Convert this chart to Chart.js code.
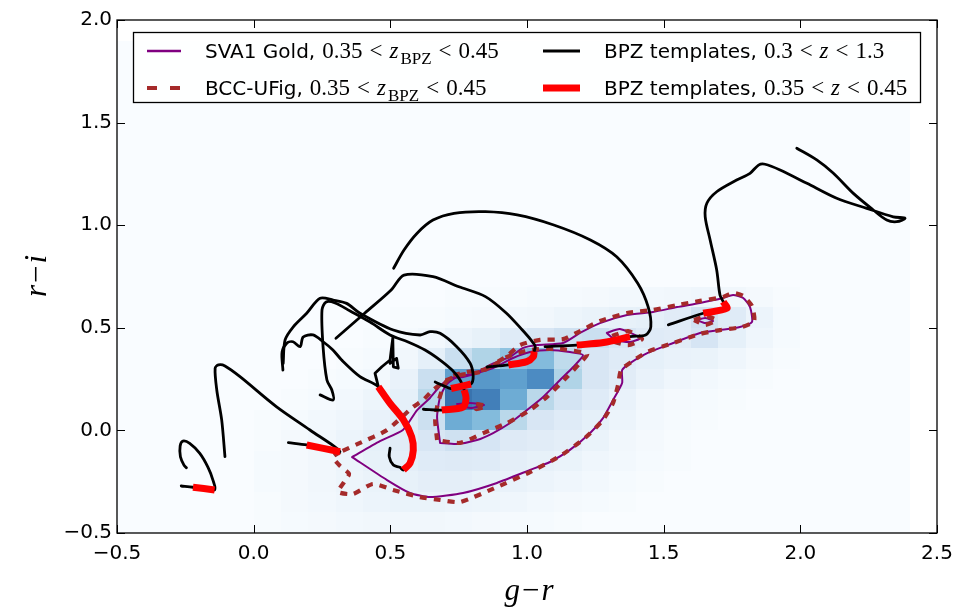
<!DOCTYPE html>
<html>
<head>
<meta charset="utf-8">
<style>
  html, body { margin: 0; padding: 0; background: #ffffff; }
  #wrap { width: 972px; height: 609px; }
</style>
<script src="https://cdn.jsdelivr.net/npm/chart.js@4.4.1/dist/chart.umd.min.js"></script>
</head>
<body>
<div id="wrap"><canvas id="c" width="972" height="609"></canvas></div>
<script>
// ---------------- axis ticks ----------------
const xTickValues = [-0.5, 0.0, 0.5, 1.0, 1.5, 2.0, 2.5];
const yTickValues = [-0.5, 0.0, 0.5, 1.0, 1.5, 2.0];

// ---------------- 2D histogram of g-r vs r-i (bins of 0.1) ----------------
const binXStart = -0.5, binXCount = 29;   // g-r bins: -0.5 .. 2.4
const binYStart = -0.5, binYCount = 24;   // r-i bins: -0.5 .. 1.9
const binStep = 0.1;
const denseColStart = 5;                  // first listed column is g-r = 0.0
// normalised counts, one row per r-i bin, columns g-r = 0.0 .. 1.9
const rowRiM050 = [0.01,0.02,0.03,0.04,0.05,0.05,0.05,0.04,0.03,0.02,0.02,0.01,0,0,0,0,0,0,0,0];
const rowRiM040 = [0.01,0.03,0.04,0.06,0.08,0.09,0.09,0.08,0.07,0.06,0.04,0.03,0.02,0.01,0,0,0,0,0,0];
const rowRiM030 = [0.02,0.03,0.05,0.07,0.09,0.11,0.13,0.13,0.11,0.10,0.08,0.06,0.04,0.02,0.01,0,0,0,0,0];
const rowRiM020 = [0.02,0.03,0.05,0.08,0.11,0.13,0.16,0.17,0.16,0.13,0.11,0.09,0.06,0.04,0.02,0.01,0,0,0,0];
const rowRiM010 = [0.01,0.03,0.05,0.08,0.12,0.15,0.21,0.26,0.22,0.17,0.15,0.13,0.09,0.05,0.03,0.01,0,0,0,0];
const rowRiP000 = [0.01,0.02,0.04,0.06,0.10,0.15,0.27,0.60,0.52,0.34,0.21,0.16,0.12,0.08,0.04,0.02,0.01,0,0,0];
const rowRiP010 = [0,0.01,0.02,0.04,0.07,0.12,0.34,0.88,0.82,0.60,0.34,0.23,0.16,0.10,0.05,0.03,0.02,0.01,0,0];
const rowRiP020 = [0,0,0.01,0.02,0.04,0.10,0.28,0.66,0.70,0.66,0.76,0.38,0.21,0.15,0.10,0.06,0.04,0.02,0.01,0];
const rowRiP030 = [0,0,0,0.01,0.02,0.05,0.12,0.28,0.38,0.48,0.52,0.32,0.21,0.16,0.12,0.10,0.09,0.06,0.03,0.01];
const rowRiP040 = [0,0,0,0,0.01,0.02,0.04,0.08,0.11,0.16,0.21,0.26,0.28,0.21,0.16,0.15,0.22,0.12,0.06,0.02];
const rowRiP050 = [0,0,0,0,0,0.01,0.01,0.02,0.03,0.04,0.05,0.07,0.09,0.11,0.12,0.15,0.25,0.16,0.08,0.02];
const rowRiP060 = [0,0,0,0,0,0,0,0.01,0.01,0.01,0.02,0.02,0.03,0.04,0.04,0.05,0.06,0.05,0.03,0.01];
const densityRows = [rowRiM050,rowRiM040,rowRiM030,rowRiM020,rowRiM010,rowRiP000,
                     rowRiP010,rowRiP020,rowRiP030,rowRiP040,rowRiP050,rowRiP060];

// ---------------- 68% density contours ----------------
const goldOuter = [[0.360,-0.130],[0.462,-0.052],[0.546,0.002],[0.598,0.099],[0.645,0.158],[0.682,0.216],[0.718,0.255],[0.766,0.260],[0.817,0.280],[0.865,0.319],[0.938,0.358],[0.986,0.402],[1.037,0.416],[1.132,0.426],[1.194,0.475],[1.267,0.523],[1.366,0.562],[1.461,0.577],[1.549,0.601],[1.633,0.621],[1.717,0.645],[1.754,0.660],[1.791,0.645],[1.816,0.601],[1.823,0.528],[1.779,0.504],[1.706,0.489],[1.633,0.475],[1.535,0.426],[1.440,0.377],[1.377,0.328],[1.348,0.294],[1.348,0.231],[1.315,0.148],[1.278,0.060],[1.231,-0.013],[1.157,-0.095],[1.084,-0.154],[1.011,-0.193],[0.890,-0.256],[0.766,-0.305],[0.645,-0.325],[0.572,-0.305],[0.488,-0.242],[0.360,-0.130]];
const goldInner = [[0.682,-0.061],[0.671,0.065],[0.682,0.163],[0.707,0.226],[0.744,0.260],[0.803,0.275],[0.876,0.304],[0.949,0.353],[1.011,0.382],[1.084,0.392],[1.157,0.382],[1.205,0.367],[1.169,0.309],[1.121,0.246],[1.059,0.163],[1.000,0.099],[0.938,0.036],[0.876,-0.013],[0.817,-0.047],[0.744,-0.066],[0.682,-0.061]];
const goldBlobA = [[1.292,0.475],[1.340,0.494],[1.414,0.450],[1.377,0.431],[1.322,0.441],[1.292,0.475]];
const goldBlobB = [[1.622,0.538],[1.652,0.548],[1.681,0.533],[1.652,0.523],[1.622,0.538]];
const goldPeak  = [[0.744,0.129],[0.792,0.134],[0.843,0.124],[0.792,0.109],[0.744,0.129]];

const simOuter = [[0.316,-0.105],[0.290,-0.130],[0.316,-0.173],[0.349,-0.212],[0.331,-0.251],[0.309,-0.300],[0.363,-0.310],[0.436,-0.261],[0.510,-0.290],[0.609,-0.325],[0.682,-0.339],[0.755,-0.349],[0.890,-0.276],[1.011,-0.203],[1.121,-0.125],[1.212,-0.037],[1.278,0.051],[1.315,0.134],[1.333,0.221],[1.344,0.294],[1.381,0.333],[1.440,0.382],[1.535,0.426],[1.633,0.470],[1.706,0.489],[1.787,0.504],[1.831,0.533],[1.823,0.606],[1.791,0.655],[1.754,0.670],[1.717,0.650],[1.633,0.631],[1.549,0.611],[1.461,0.587],[1.366,0.572],[1.267,0.533],[1.194,0.484],[1.132,0.445],[1.048,0.441],[0.975,0.416],[0.927,0.363],[0.828,0.285],[0.755,0.270],[0.707,0.246],[0.656,0.197],[0.620,0.148],[0.583,0.114],[0.488,0.002],[0.389,-0.061],[0.316,-0.105]];
const simInner = [[0.671,-0.047],[0.664,0.051],[0.671,0.114],[0.693,0.212],[0.718,0.260],[0.781,0.285],[0.854,0.299],[0.927,0.358],[1.011,0.392],[1.121,0.397],[1.220,0.372],[1.194,0.328],[1.146,0.260],[1.073,0.163],[1.011,0.099],[0.927,0.036],[0.840,-0.013],[0.755,-0.061],[0.671,-0.047]];
const simBlobA = [[1.311,0.460],[1.370,0.484],[1.421,0.445],[1.370,0.416],[1.311,0.436],[1.311,0.460]];
const simBlobB = [[1.611,0.538],[1.652,0.557],[1.692,0.538],[1.652,0.514],[1.611,0.538]];
const simPeak  = [[0.814,0.129],[0.850,0.119],[0.814,0.104],[0.814,0.129]];

// ---------------- BPZ template colour tracks, 0.3 < z < 1.3 ----------------
const tplA = [[-0.265,-0.271],[-0.222,-0.277],[-0.143,-0.290],[-0.149,-0.242],[-0.167,-0.180],[-0.197,-0.112],[-0.234,-0.063],[-0.259,-0.052],[-0.269,-0.076],[-0.268,-0.128],[-0.255,-0.169],[-0.246,-0.182]];
const tplB = [[0.127,-0.060],[0.194,-0.071],[0.316,-0.104],[0.206,0.002],[0.084,0.115],[-0.050,0.262],[-0.105,0.314],[-0.129,0.319],[-0.141,0.303],[-0.135,0.197],[-0.117,0.051],[-0.105,-0.128]];
const tplC = [[0.499,-0.087],[0.496,-0.128],[0.511,-0.169],[0.535,-0.180],[0.548,-0.193],[0.572,-0.160],[0.584,-0.097],[0.578,-0.031],[0.548,0.051],[0.499,0.132],[0.456,0.213],[0.389,0.262],[0.322,0.343],[0.290,0.392],[0.254,0.432],[0.217,0.465],[0.181,0.455],[0.170,0.408],[0.144,0.432],[0.122,0.426],[0.104,0.382],[0.107,0.294]];
const tplH = [[0.456,0.213],[0.450,0.246],[0.444,0.278],[0.469,0.310],[0.499,0.343],[0.505,0.408],[0.509,0.449],[0.511,0.310],[0.529,0.303],[0.523,0.351],[0.499,0.327]];
const tplD = [[0.664,0.236],[0.722,0.204],[0.762,0.216],[0.795,0.226],[0.803,0.265],[0.792,0.327],[0.743,0.408],[0.682,0.473],[0.645,0.481],[0.609,0.465],[0.511,0.489],[0.389,0.571],[0.340,0.619],[0.291,0.635],[0.243,0.644],[0.194,0.571],[0.145,0.505],[0.115,0.441],[0.108,0.327]];
const tplE = [[0.621,0.103],[0.688,0.099],[0.766,0.114],[0.777,0.158],[0.770,0.197],[0.755,0.246],[0.726,0.294],[0.682,0.343],[0.627,0.392],[0.565,0.431],[0.499,0.465],[0.426,0.528],[0.353,0.582],[0.298,0.621],[0.265,0.626],[0.250,0.587],[0.254,0.406],[0.268,0.246],[0.286,0.197],[0.291,0.148],[0.243,0.173]];
const tplF = [[0.854,0.309],[0.932,0.319],[0.999,0.335],[1.023,0.359],[1.026,0.384],[1.030,0.410],[1.015,0.440],[0.983,0.489],[0.925,0.571],[0.848,0.652],[0.751,0.700],[0.656,0.749],[0.550,0.757],[0.503,0.684],[0.406,0.571],[0.301,0.449]];
const tplG = [[1.066,0.408],[1.182,0.416],[1.280,0.428],[1.377,0.457],[1.434,0.465],[1.453,0.505],[1.443,0.603],[1.405,0.717],[1.328,0.846],[1.232,0.928],[1.098,1.001],[0.964,1.050],[0.848,1.066],[0.733,1.058],[0.656,1.025],[0.598,0.961],[0.550,0.879],[0.512,0.790]];
const tplJ = [[1.517,0.514],[1.645,0.571],[1.731,0.595],[1.718,0.627],[1.706,0.660],[1.694,0.782],[1.670,0.928],[1.652,1.041],[1.658,1.107],[1.694,1.163],[1.767,1.220],[1.816,1.253],[1.847,1.293],[1.871,1.297],[1.926,1.269],[2.024,1.204],[2.133,1.131],[2.243,1.082],[2.340,1.041],[2.383,1.034],[2.353,1.017],[2.316,1.025],[2.267,1.074],[2.194,1.155],[2.121,1.253],[2.060,1.318],[1.987,1.375]];

// ---------------- the same tracks restricted to 0.35 < z < 0.45 ----------------
const zsA = [[-0.222,-0.277],[-0.143,-0.290]];
const zsB = [[0.194,-0.071],[0.316,-0.104]];
const zsC = [[0.548,-0.193],[0.572,-0.160],[0.584,-0.097],[0.578,-0.031],[0.548,0.051],[0.499,0.132],[0.456,0.213]];
const zsD = [[0.722,0.204],[0.762,0.216],[0.795,0.226]];
const zsE = [[0.688,0.099],[0.766,0.114],[0.777,0.158],[0.770,0.197]];
const zsF = [[0.932,0.319],[0.999,0.335],[1.023,0.359],[1.026,0.384]];
const zsG = [[1.182,0.416],[1.280,0.428],[1.377,0.457]];
const zsJ = [[1.645,0.571],[1.731,0.595],[1.718,0.627]];

// ---------------- legend text ----------------
const legendNames = ['SVA1 Gold,', 'BCC-UFig,', 'BPZ templates,', 'BPZ templates,'];
const legendLo = ['0.35', '0.35', '0.3', '0.35'];
const legendHi = ['0.45', '0.45', '1.3', '0.45'];
const legendSub = [true, true, false, false];

// ---------------- styles ----------------
const PURPLE = '#800080', BROWN = '#a52a2a', BLACK = '#000000', RED = '#ff0000';
const SANS = '"DejaVu Sans", sans-serif';
const SERIF = '"Liberation Serif", "DejaVu Serif", serif';

const toXY = arr => arr.map(p => ({ x: p[0], y: p[1] }));
function curve(arr, color, width, opts = {}) {
  return Object.assign({
    data: toXY(arr), showLine: true, borderColor: color, borderWidth: width,
    pointRadius: 0, pointHoverRadius: 0, fill: false, tension: 0,
    borderCapStyle: 'round', borderJoinStyle: 'round'
  }, opts);
}
const dashed = { borderDash: [7, 7], borderCapStyle: 'butt', borderJoinStyle: 'miter' };

const datasets = [];
[goldOuter, goldInner, goldBlobA, goldBlobB, goldPeak].forEach(a =>
  datasets.push(curve(a, PURPLE, 2, { order: 4, tension: 0.2 })));
[simOuter, simInner, simBlobA, simBlobB, simPeak].forEach(a =>
  datasets.push(curve(a, BROWN, 4.2, Object.assign({ order: 3, tension: 0.2 }, dashed))));
[tplA, tplB, tplC, tplD, tplE, tplF, tplG, tplJ].forEach(a =>
  datasets.push(curve(a, BLACK, 2.8, { order: 2, tension: 0.3 })));
datasets.push(curve(tplH, BLACK, 2.8, { order: 2, tension: 0 }));
[zsA, zsB, zsC, zsD, zsE, zsF, zsG, zsJ].forEach(a =>
  datasets.push(curve(a, RED, 7, { order: 1, tension: 0.3, borderCapStyle: 'butt' })));

// Blues colour map, blended with white (image drawn with partial opacity)
const bluesStops = ['#f7fbff','#deebf7','#c6dbef','#9ecae1','#6baed6','#4292c6','#2171b5','#08519c','#08306b'];
function hexRgb(h) { return [1,3,5].map(i => parseInt(h.substr(i, 2), 16)); }
function blues(v) {
  v = Math.max(0, Math.min(1, v));
  const s = v * (bluesStops.length - 1), i = Math.min(Math.floor(s), bluesStops.length - 2), f = s - i;
  const a = hexRgb(bluesStops[i]), b = hexRgb(bluesStops[i + 1]);
  const alpha = 0.8;
  const c = a.map((ai, j) => (ai + (b[j] - ai) * f) * alpha + 255 * (1 - alpha));
  return `rgb(${c.map(Math.round).join(',')})`;
}
function densityAt(k, m) {
  const row = densityRows[m];
  if (!row) return 0;
  const j = k - denseColStart;
  return (j >= 0 && j < row.length) ? row[j] : 0;
}

// draw text made of runs with different fonts; returns end x
function drawRuns(ctx, parts, x, y, measureOnly) {
  for (const p of parts) {
    ctx.font = p.f;
    x += p.pl || 0;
    if (!measureOnly) ctx.fillText(p.t, x, y + (p.dy || 0));
    x += ctx.measureText(p.t).width + (p.pr || 0);
  }
  return x;
}
function zRange(lo, hi, sub) {
  const f = `23px ${SERIF}`;
  const parts = [{ t: lo, f, pl: 6 }, { t: '<', f, pl: 7, pr: 7 }, { t: 'z', f: `italic 23px ${SERIF}` }];
  if (sub) parts.push({ t: 'BPZ', f: `17px ${SERIF}`, dy: 6, pl: 2 });
  parts.push({ t: '<', f, pl: 7, pr: 7 }, { t: hi, f });
  return parts;
}

const decor = {
  id: 'decor',
  beforeDatasetsDraw(chart) {
    const { ctx, chartArea: a, scales: { x, y } } = chart;
    ctx.save();
    ctx.beginPath();
    ctx.rect(a.left, a.top, a.right - a.left, a.bottom - a.top);
    ctx.clip();
    for (let m = 0; m < binYCount; m++) {
      for (let k = 0; k < binXCount; k++) {
        const x0 = Math.round(x.getPixelForValue(binXStart + k * binStep));
        const x1 = Math.round(x.getPixelForValue(binXStart + (k + 1) * binStep));
        const y0 = Math.round(y.getPixelForValue(binYStart + m * binStep));
        const y1 = Math.round(y.getPixelForValue(binYStart + (m + 1) * binStep));
        ctx.fillStyle = blues(densityAt(k, m));
        ctx.fillRect(x0, y1, x1 - x0, y0 - y1);
      }
    }
    ctx.restore();
  },
  afterDraw(chart) {
    const { ctx, chartArea: a, scales: { x, y } } = chart;
    ctx.save();
    // frame and inward ticks
    ctx.strokeStyle = '#000';
    ctx.lineWidth = 1.3;
    ctx.strokeRect(a.left, a.top, a.right - a.left, a.bottom - a.top);
    ctx.lineWidth = 1;
    const tl = 8;
    ctx.beginPath();
    xTickValues.forEach(v => {
      const px = Math.round(x.getPixelForValue(v)) + 0.5;
      ctx.moveTo(px, a.bottom); ctx.lineTo(px, a.bottom - tl);
      ctx.moveTo(px, a.top); ctx.lineTo(px, a.top + tl);
    });
    yTickValues.forEach(v => {
      const py = Math.round(y.getPixelForValue(v)) + 0.5;
      ctx.moveTo(a.left, py); ctx.lineTo(a.left + tl, py);
      ctx.moveTo(a.right, py); ctx.lineTo(a.right - tl, py);
    });
    ctx.stroke();

    // legend
    const bx = 133, by = 32, bw = 787, bh = 70;
    ctx.fillStyle = 'rgba(255,255,255,0.85)';
    ctx.fillRect(bx, by, bw, bh);
    ctx.strokeStyle = '#000';
    ctx.lineWidth = 1.3;
    ctx.strokeRect(bx + 0.5, by + 0.5, bw, bh);
    const rowsY = [51, 88];
    const handleX = [[147, 181], [543, 580]];
    const textX = [205, 604];
    const handleStyle = [
      { c: PURPLE, w: 2.5, d: [] },
      { c: BROWN, w: 4.2, d: [10, 13] },
      { c: BLACK, w: 2.8, d: [] },
      { c: RED, w: 7, d: [] }
    ];
    const slot = [[0, 0], [0, 1], [1, 0], [1, 1]]; // [column, row]
    for (let i = 0; i < 4; i++) {
      const [col, row] = slot[i];
      const cy = rowsY[row];
      const st = handleStyle[i];
      ctx.beginPath();
      ctx.setLineDash(st.d);
      ctx.strokeStyle = st.c;
      ctx.lineWidth = st.w;
      ctx.lineCap = 'butt';
      ctx.moveTo(handleX[col][0], cy);
      ctx.lineTo(handleX[col][1], cy);
      ctx.stroke();
      ctx.setLineDash([]);
      ctx.fillStyle = '#000';
      ctx.textBaseline = 'alphabetic';
      ctx.textAlign = 'left';
      const parts = [{ t: legendNames[i], f: `20px ${SANS}`, pr: 1 }].concat(
        zRange(legendLo[i], legendHi[i], legendSub[i]));
      drawRuns(ctx, parts, textX[col], cy + 7);
    }

    // axis titles
    ctx.fillStyle = '#000';
    const xt = [{ t: 'g', f: `italic 31px ${SERIF}` }, { t: '\u2212', f: `31px ${SERIF}`, pl: 2, pr: 2 }, { t: 'r', f: `italic 31px ${SERIF}` }];
    let w = drawRuns(ctx, xt, 0, 0, true);
    drawRuns(ctx, xt, 529 - w / 2, 600);
    const yt = [{ t: 'r', f: `italic 31px ${SERIF}` }, { t: '\u2212', f: `31px ${SERIF}`, pl: 2, pr: 2 }, { t: 'i', f: `italic 31px ${SERIF}` }];
    w = drawRuns(ctx, yt, 0, 0, true);
    ctx.translate(46, 276);
    ctx.rotate(-Math.PI / 2);
    drawRuns(ctx, yt, -w / 2, 0);
    ctx.restore();
  }
};

const fmt = v => (v < 0 ? '\u2212' : '') + Math.abs(v).toFixed(1);

new Chart(document.getElementById('c'), {
  type: 'scatter',
  data: { datasets },
  options: {
    responsive: false,
    devicePixelRatio: 1,
    animation: false,
    events: [],
    layout: { padding: { left: 0, top: 20, right: 35, bottom: 0 } },
    plugins: { legend: { display: false }, tooltip: { enabled: false } },
    scales: {
      x: {
        type: 'linear', min: -0.5, max: 2.5,
        grid: { display: false, drawTicks: false },
        border: { display: false },
        afterBuildTicks: s => { s.ticks = xTickValues.map(v => ({ value: v })); },
        afterFit: s => { s.height = 76; },
        ticks: { callback: fmt, color: '#000', font: { family: SANS, size: 20 }, padding: 9, maxRotation: 0, autoSkip: false }
      },
      y: {
        type: 'linear', min: -0.5, max: 2.0,
        grid: { display: false, drawTicks: false },
        border: { display: false },
        afterBuildTicks: s => { s.ticks = yTickValues.map(v => ({ value: v })); },
        afterFit: s => { s.width = 117; },
        ticks: { callback: fmt, color: '#000', font: { family: SANS, size: 20 }, padding: 5, autoSkip: false }
      }
    }
  },
  plugins: [decor]
});
</script>
</body>
</html>
